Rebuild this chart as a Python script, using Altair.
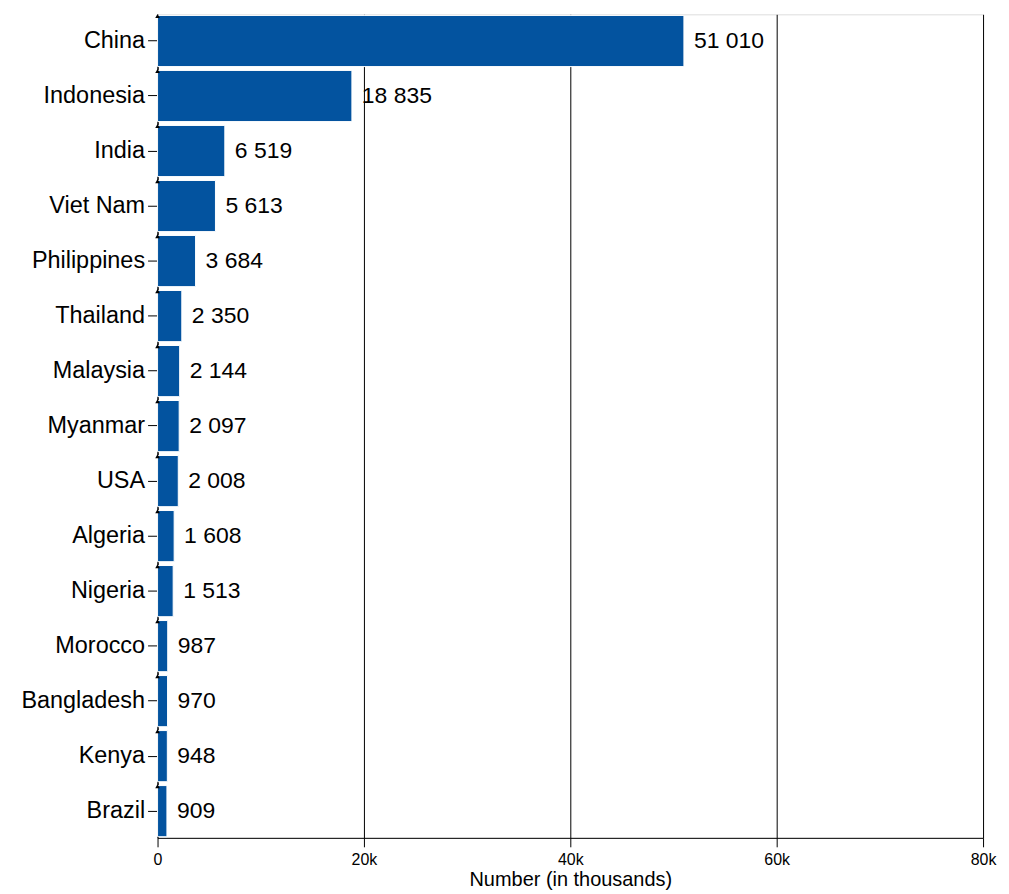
import altair as alt
import pandas as pd

countries = ["China", "Indonesia", "India", "Viet Nam", "Philippines", "Thailand",
             "Malaysia", "Myanmar", "USA", "Algeria", "Nigeria", "Morocco",
             "Bangladesh", "Kenya", "Brazil"]
values = [51010, 18835, 6519, 5613, 3684, 2350, 2144, 2097, 2008, 1608, 1513,
          987, 970, 948, 909]

df = pd.DataFrame({"country": countries, "value": values})
df["label"] = df["value"].map(lambda v: f"{v:,}".replace(",", " "))

FONT = "Liberation Sans"

y_enc = alt.Y("country:N", sort=countries, title=None,
              scale=alt.Scale(paddingInner=0.07, paddingOuter=0.02),
              axis=alt.Axis(labelFontSize=23.5, labelColor="#000", labelFont=FONT,
                            domainColor="#000", tickColor="#000", tickSize=10,
                            labelPadding=3, grid=False))
x_enc = alt.X("value:Q", title="Number (in thousands)",
              scale=alt.Scale(domain=[0, 80000], nice=False),
              axis=alt.Axis(values=[0, 20000, 40000, 60000, 80000],
                            labelExpr="datum.value == 0 ? '0' : (datum.value / 1000) + 'k'",
                            labelFontSize=16, labelColor="#000", labelFont=FONT,
                            labelPadding=5, labelAlign="center", labelFlush=False,
                            labelOverlap=False,
                            titleFontSize=20, titleFont=FONT, titleColor="#000",
                            titleFontWeight="normal", titlePadding=2,
                            domainColor="#000", tickColor="#000", tickSize=9,
                            grid=True, gridColor="#000", gridOpacity=1, gridWidth=1))

base = alt.Chart(df)

bars = base.mark_bar(color="#03539f", stroke="white", strokeWidth=1).encode(
    x=x_enc, y=y_enc)

text = base.mark_text(align="left", baseline="middle", dx=10, fontSize=23,
                      font=FONT, color="#000").encode(
    x="value:Q", y=alt.Y("country:N", sort=countries), text="label:N")

arrows = base.mark_point(shape="triangle-up", filled=True, color="#000", size=22,
                         opacity=1, yOffset=-25).encode(
    x=alt.datum(0), y=alt.Y("country:N", sort=countries))

chart = alt.layer(bars, text, arrows).properties(
    width=828, height=826,
    padding={"left": 12, "top": 4, "right": 5, "bottom": 5}
).configure_view(stroke=None).configure(font=FONT)

chart.save("out.html", embed_options={"renderer": "svg", "actions": False})
